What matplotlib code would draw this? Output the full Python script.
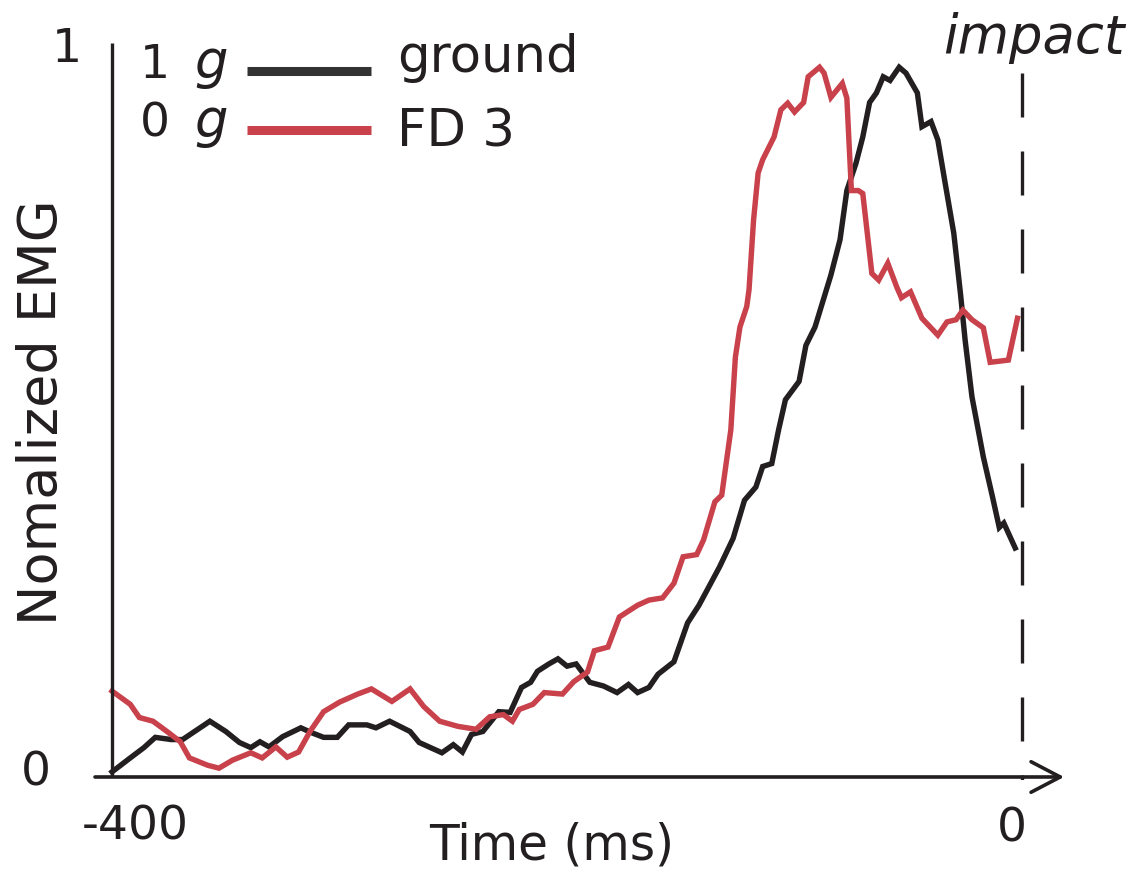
import numpy as np
import matplotlib.pyplot as plt

# time before impact (ms) and normalized EMG
t_ground = [-400, -392, -386, -381, -374, -369, -357, -350, -344, -339, -335, -331,
            -325, -317, -312, -307, -301, -296, -288, -284, -278, -269, -265, -255,
            -250, -246, -242, -237, -230, -225, -220, -216, -213, -208, -204, -200,
            -196, -190, -184, -178, -173, -169, -164, -160, -153, -147, -142, -133,
            -127, -122, -117, -114, -110, -107, -104, -98, -95, -91, -84, -80, -77,
            -73, -70, -67, -64, -61, -58, -54, -51, -46, -44, -40, -37, -34, -30,
            -27, -25, -22, -17, -13, -10, -8, -3]
emg_ground = [0.007, 0.026, 0.040, 0.054, 0.051, 0.051, 0.076, 0.062, 0.047, 0.040,
              0.048, 0.041, 0.055, 0.067, 0.060, 0.054, 0.054, 0.071, 0.071, 0.067,
              0.076, 0.062, 0.047, 0.033, 0.044, 0.034, 0.058, 0.062, 0.089, 0.088,
              0.122, 0.129, 0.144, 0.154, 0.161, 0.151, 0.154, 0.129, 0.124, 0.115,
              0.126, 0.115, 0.122, 0.140, 0.157, 0.210, 0.234, 0.286, 0.325, 0.377,
              0.395, 0.423, 0.427, 0.473, 0.514, 0.539, 0.588, 0.613, 0.684, 0.732,
              0.799, 0.836, 0.872, 0.919, 0.932, 0.954, 0.949, 0.967, 0.959, 0.932,
              0.886, 0.893, 0.868, 0.813, 0.741, 0.657, 0.595, 0.518, 0.436, 0.382,
              0.340, 0.346, 0.312]

t_fd3 = [-400, -392, -388, -382, -375, -370, -366, -358, -353, -347, -339, -334,
         -328, -323, -318, -313, -307, -300, -292, -286, -277, -269, -263, -256,
         -248, -240, -234, -228, -224, -221, -215, -210, -202, -197, -191, -188,
         -182, -177, -169, -164, -158, -153, -149, -143, -140, -135, -132, -128,
         -126, -124, -121, -120, -118, -116, -114, -109, -106, -103, -100, -96,
         -94, -89, -87, -84, -79, -77, -75, -72, -70, -66, -63, -59, -55, -53,
         -49, -44, -37, -33, -29, -26, -22, -17, -14, -6, -2]
emg_fd3 = [0.117, 0.099, 0.081, 0.076, 0.060, 0.048, 0.026, 0.016, 0.012, 0.023,
           0.033, 0.026, 0.041, 0.027, 0.034, 0.062, 0.089, 0.102, 0.113, 0.120,
           0.103, 0.120, 0.096, 0.076, 0.069, 0.065, 0.082, 0.085, 0.076, 0.092,
           0.099, 0.115, 0.113, 0.130, 0.143, 0.172, 0.177, 0.218, 0.234, 0.241,
           0.244, 0.264, 0.300, 0.303, 0.323, 0.375, 0.384, 0.473, 0.572, 0.613,
           0.641, 0.664, 0.759, 0.823, 0.841, 0.872, 0.909, 0.918, 0.906, 0.919,
           0.954, 0.967, 0.959, 0.926, 0.945, 0.925, 0.799, 0.799, 0.795, 0.686,
           0.677, 0.700, 0.667, 0.653, 0.661, 0.625, 0.602, 0.620, 0.623, 0.636,
           0.623, 0.612, 0.565, 0.568, 0.625]

gravity = ["1", "0"]
conditions = ["ground", "FD 3"]
colors = ["#231f20", "#c8414b"]
legend_colors = ["#333333", "#c8414b"]

ink = "#231f20"
plt.rcParams['font.family'] = ['DejaVu Sans']

fig = plt.figure(figsize=(11.33, 8.69), dpi=100)
ax = fig.add_axes([95 / 1133, 89 / 869, 984 / 1133, 775 / 869])
ax.set_xlim(-407.5, 25.05)
ax.set_ylim(-0.0041, 1.0518)
ax.axis("off")

# curves
ax.plot(t_ground, emg_ground, color=colors[0], lw=3.9, solid_joinstyle="miter")
ax.plot(t_fd3, emg_fd3, color=colors[1], lw=3.9, solid_joinstyle="miter")

# axes drawn by hand
ax.plot([-400, -400], [0, 1], color=ink, lw=2.4, solid_capstyle="butt")
ax.annotate("", xy=(18.5, 0), xytext=(-407.5, 0),
            arrowprops=dict(arrowstyle="->,head_length=2.1,head_width=1.1",
                            color=ink, lw=2.6, shrinkA=0, shrinkB=0,
                            mutation_scale=10))
ax.plot([0, 0], [0.959, -0.007], color=ink, lw=2.4, dashes=(13.2, 10.2))

# tick labels
fs = 34
ax.text(-0.0285, 0.9265, "1", transform=ax.transAxes, ha="center", va="baseline",
        fontsize=fs, color=ink)
ax.text(-0.060, -0.0065, "0", transform=ax.transAxes, ha="center", va="baseline",
        fontsize=fs, color=ink)
ax.text(0.0407, -0.0774, "-400", transform=ax.transAxes, ha="center", va="baseline",
        fontsize=fs, color=ink)
ax.text(0.932, -0.080, "0", transform=ax.transAxes, ha="center", va="baseline",
        fontsize=fs, color=ink)

ax.text(0.4644, -0.1032, "Time (ms)", transform=ax.transAxes, ha="center",
        va="baseline", fontsize=35, color=ink)
ax.text(-0.0539, 0.4748, "Nomalized EMG", transform=ax.transAxes, ha="center",
        va="center", rotation=90, fontsize=39, color=ink)
ax.text(0.954, 0.938, "impact", transform=ax.transAxes, ha="center", va="baseline",
        fontsize=38, style="italic", color=ink)

# legend
rows_y = [0.9135, 0.818]
for i in range(2):
    ly = [0.9148, 0.8387][i]
    ax.plot([0.1545, 0.2805], [ly, ly], transform=ax.transAxes,
            color=legend_colors[i], lw=6.5, solid_capstyle="butt")
    num_y = [0.906, 0.830][i]
    ax.text(0.061, num_y, gravity[i], transform=ax.transAxes, ha="center",
            va="baseline", fontsize=fs, color=ink)
    ax.text(0.118, num_y, "g", transform=ax.transAxes, ha="center",
            va="baseline", fontsize=38, style="italic", color=ink)
    ax.text(0.307, rows_y[i], conditions[i], transform=ax.transAxes, ha="left",
            va="baseline", fontsize=37, color=ink)

fig.savefig("out.png", dpi=100)
